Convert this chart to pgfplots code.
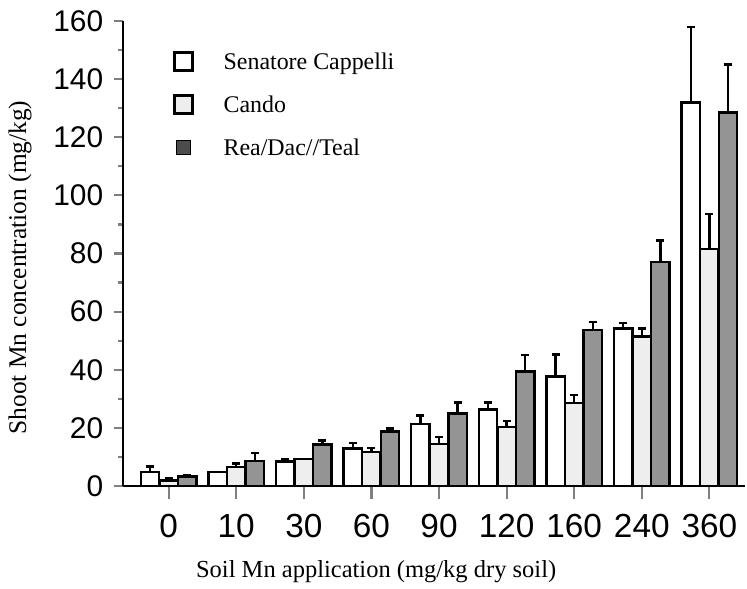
\documentclass[border=0pt]{standalone}
\usepackage{fontspec}
\setmainfont{Liberation Serif}
\newfontfamily\hel{Liberation Sans}
\usepackage{pgfplots}
\pgfplotsset{compat=1.18}
\definecolor{lightbar}{RGB}{238,238,238}
\definecolor{darkbar}{RGB}{148,148,148}
\begin{document}
\begin{tikzpicture}
\useasboundingbox (-123bp,-103bp) rectangle (624bp,486bp);
\begin{axis}[
  scale only axis, width=622bp, height=465bp,
  at={(0,0)}, anchor=south west,
  xmin=-0.675, xmax=8.527, ymin=0, ymax=160,
  axis lines*=left,
  axis line style={line width=2.4bp},
  tick align=outside,
  ytick={0,20,...,160}, minor y tick num=1,
  xtick={0,...,8}, xticklabels={0,10,30,60,90,120,160,240,360},
  ytick style={line width=2.2bp, /pgfplots/major tick length=9bp, /pgfplots/minor tick length=5bp},
  xtick style={line width=2.2bp, /pgfplots/major tick length=13bp},
  /pgf/number format/assume math mode=true,
  yticklabel style={font=\hel\fontsize{30}{30}\selectfont, xshift=-12bp},
  xticklabel style={font=\hel\fontsize{33.5}{33.5}\selectfont, yshift=-20bp},
  ylabel={Shoot Mn concentration (mg/kg)},
  xlabel={Soil Mn application (mg/kg dry soil)},
  every axis y label/.style={at={(rel axis cs:0,0.47)}, xshift=-103bp, rotate=90, anchor=center, font=\fontsize{25.5}{25.5}\selectfont},
  every axis x label/.style={at={(rel axis cs:0.407,0)}, yshift=-91bp, anchor=base, font=\fontsize{24.6}{24.6}\selectfont},
  ybar, bar width=0.27,
  legend style={at={(rel axis cs:0.075,0.94)}, anchor=north west, draw=none, fill=none,
    font=\fontsize{24}{24}\selectfont, row sep=22bp, nodes={inner sep=1bp}},
  legend cell align=left,
  error bars/y dir=plus, error bars/y explicit,
  error bars/error bar style={line width=2.4bp, black},
  error bars/error mark options={rotate=90, mark size=4bp, line width=2.4bp, black},
]
\addplot[draw=black, line width=2.4bp, fill=white, bar shift=-0.275,
  legend image code/.code={\draw[line width=3.2bp, fill=white] (0bp,-9bp) rectangle (18bp,9bp); \path (47bp,0bp);}]
coordinates {
 (0,4.9) +- (0,1.8)
 (1,4.8) +- (0,0)
 (2,8.4) +- (0,0.8)
 (3,12.9) +- (0,1.8)
 (4,21.4) +- (0,2.8)
 (5,26.3) +- (0,2.5)
 (6,37.7) +- (0,7.6)
 (7,54.2) +- (0,1.8)
 (8,132.0) +- (0,26.0)
};
\addlegendentry{Senatore Cappelli}
\addplot[draw=black, line width=2.4bp, fill=lightbar, bar shift=0,
  legend image code/.code={\draw[line width=3.2bp, fill=lightbar] (0bp,-9bp) rectangle (18bp,9bp); \path (47bp,0bp);}]
coordinates {
 (0,1.9) +- (0,0.7)
 (1,6.6) +- (0,1.2)
 (2,9.3) +- (0,0)
 (3,11.7) +- (0,1.4)
 (4,14.5) +- (0,2.3)
 (5,20.3) +- (0,2.1)
 (6,28.6) +- (0,2.7)
 (7,51.4) +- (0,2.8)
 (8,81.5) +- (0,12.0)
};
\addlegendentry{Cando}
\addplot[draw=black, line width=2.4bp, fill=darkbar, bar shift=0.275,
  legend image code/.code={\draw[line width=1bp, fill=black!70] (2bp,-7bp) rectangle (16bp,7bp); \path (45bp,0bp);}]
coordinates {
 (0,3.3) +- (0,0.4)
 (1,8.7) +- (0,2.7)
 (2,14.3) +- (0,1.4)
 (3,18.8) +- (0,1.0)
 (4,25.0) +- (0,3.7)
 (5,39.4) +- (0,5.7)
 (6,53.6) +- (0,2.8)
 (7,77.0) +- (0,7.5)
 (8,128.5) +- (0,16.5)
};
\addlegendentry{Rea/Dac//Teal}
\end{axis}
\end{tikzpicture}
\end{document}
